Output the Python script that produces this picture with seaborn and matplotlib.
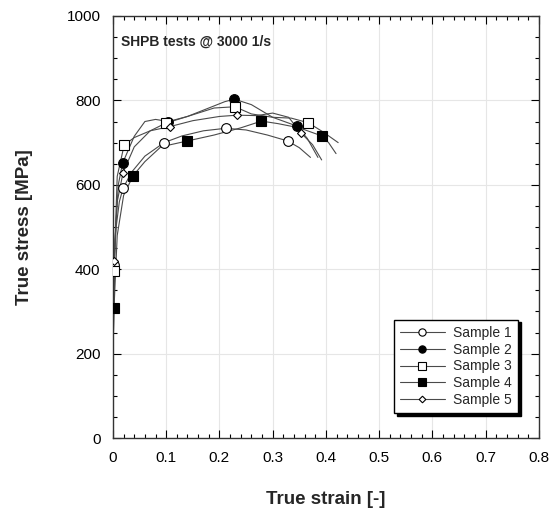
import matplotlib
matplotlib.use("Agg")
import matplotlib.pyplot as plt
from matplotlib.lines import Line2D
from matplotlib.ticker import MultipleLocator
import seaborn as sns
import pandas as pd

sns.set_theme(style="ticks")
plt.rcParams['font.family'] = ['Liberation Sans', 'DejaVu Sans']

labels = ["Sample 1", "Sample 2", "Sample 3", "Sample 4", "Sample 5"]

s1_strain = [0, 0.002, 0.006, 0.012, 0.019, 0.035, 0.06, 0.096, 0.13, 0.17, 0.212, 0.25, 0.29, 0.328, 0.35, 0.371]
s1_stress = [190, 410, 500, 560, 592, 630, 668, 700, 716, 728, 734, 730, 718, 704, 688, 665]
s1_marks = [1, 4, 7, 10, 13]

s2_strain = [0, 0.004, 0.01, 0.018, 0.04, 0.06, 0.08, 0.104, 0.14, 0.18, 0.21, 0.228, 0.26, 0.3, 0.346, 0.365, 0.385]
s2_stress = [190, 470, 600, 651, 715, 750, 755, 750, 762, 782, 797, 803, 790, 760, 739, 710, 665]
s2_marks = [3, 7, 11, 14]

s3_strain = [0, 0.002, 0.008, 0.021, 0.04, 0.07, 0.099, 0.14, 0.19, 0.229, 0.26, 0.3, 0.335, 0.367, 0.395, 0.423]
s3_stress = [190, 396, 620, 694, 712, 728, 746, 762, 782, 785, 768, 760, 758, 747, 725, 700]
s3_marks = [1, 3, 6, 9, 13]

s4_strain = [0, 0.002, 0.008, 0.02, 0.038, 0.06, 0.09, 0.14, 0.19, 0.24, 0.279, 0.31, 0.35, 0.392, 0.405, 0.419]
s4_stress = [190, 308, 480, 575, 622, 655, 690, 704, 718, 735, 751, 745, 735, 716, 700, 674]
s4_marks = [1, 4, 7, 10, 13]

s5_strain = [0, 0.002, 0.008, 0.019, 0.04, 0.07, 0.107, 0.15, 0.2, 0.233, 0.27, 0.3, 0.33, 0.354, 0.375, 0.392]
s5_stress = [190, 420, 560, 629, 690, 728, 738, 752, 762, 765, 764, 770, 760, 722, 695, 659]
s5_marks = [1, 3, 6, 9, 13]

x_ticks = [0, 0.1, 0.2, 0.3, 0.4, 0.5, 0.6, 0.7, 0.8]
x_tick_labels = ["0", "0.1", "0.2", "0.3", "0.4", "0.5", "0.6", "0.7", "0.8"]
y_ticks = [0, 200, 400, 600, 800, 1000]

series = [
    (s1_strain, s1_stress, s1_marks),
    (s2_strain, s2_stress, s2_marks),
    (s3_strain, s3_stress, s3_marks),
    (s4_strain, s4_stress, s4_marks),
    (s5_strain, s5_stress, s5_marks),
]
styles = [
    dict(marker="o", markersize=7, markerfacecolor="white"),
    dict(marker="o", markersize=7, markerfacecolor="black"),
    dict(marker="s", markersize=7, markerfacecolor="white"),
    dict(marker="s", markersize=7, markerfacecolor="black"),
    dict(marker="D", markersize=4.5, markerfacecolor="white"),
]
line_color = "#4a4a4a"

fig = plt.figure(figsize=(5.51, 5.16), dpi=100)
ax = fig.add_axes([0.205, 0.151, 0.773, 0.818])

for (sx, sy, mk), lab, st in zip(series, labels, styles):
    df = pd.DataFrame({"strain": sx, "stress": sy})
    sns.lineplot(data=df, x="strain", y="stress", ax=ax, color=line_color,
                 linewidth=0.8, sort=False, estimator=None, legend=False)
    dm = df.iloc[mk]
    ax.plot(dm["strain"], dm["stress"], linestyle="none", marker=st["marker"],
            markersize=st["markersize"], markerfacecolor=st["markerfacecolor"],
            markeredgecolor="black", markeredgewidth=0.8, zorder=3)

ax.set_xlim(0, 0.8)
ax.set_ylim(0, 1000)
ax.set_xticks(x_ticks)
ax.set_xticklabels(x_tick_labels)
ax.set_yticks(y_ticks)
ax.xaxis.set_minor_locator(MultipleLocator(0.02))
ax.yaxis.set_minor_locator(MultipleLocator(50))
ax.tick_params(which="both", direction="in", top=True, right=True, colors="black",
               labelsize=11, width=0.8)
ax.tick_params(which="major", length=6, pad=9)
ax.tick_params(which="minor", length=3)
ax.grid(True, which="major", color="#e6e6e6", linewidth=0.8)
ax.set_axisbelow(True)
for sp in ax.spines.values():
    sp.set_color("#333333")
    sp.set_linewidth(1.0)

ax.set_xlabel("True strain [-]", fontsize=13.5, fontweight="bold", labelpad=19)
ax.set_ylabel("True stress [MPa]", fontsize=13.5, fontweight="bold", labelpad=24)
ax.text(0.018, 0.955, "SHPB tests @ 3000 1/s", transform=ax.transAxes,
        fontsize=10, fontweight="bold", va="top", ha="left")

handles = [Line2D([0], [0], color=line_color, linewidth=0.8, marker=st["marker"],
                  markersize=st["markersize"] * 0.75, markerfacecolor=st["markerfacecolor"],
                  markeredgecolor="black", markeredgewidth=0.8) for st in styles]
leg = ax.legend(handles, labels, loc="lower right", bbox_to_anchor=(0.951, 0.059),
                borderaxespad=0.0,
                fontsize=10, frameon=True, fancybox=False,
                shadow={"color": "black", "alpha": 1.0},
                handlelength=3.2, borderpad=0.45, labelspacing=0.2, handletextpad=0.6)
leg.get_frame().set_edgecolor("black")
leg.get_frame().set_linewidth(1.0)

fig.savefig("out.png", dpi=100)
